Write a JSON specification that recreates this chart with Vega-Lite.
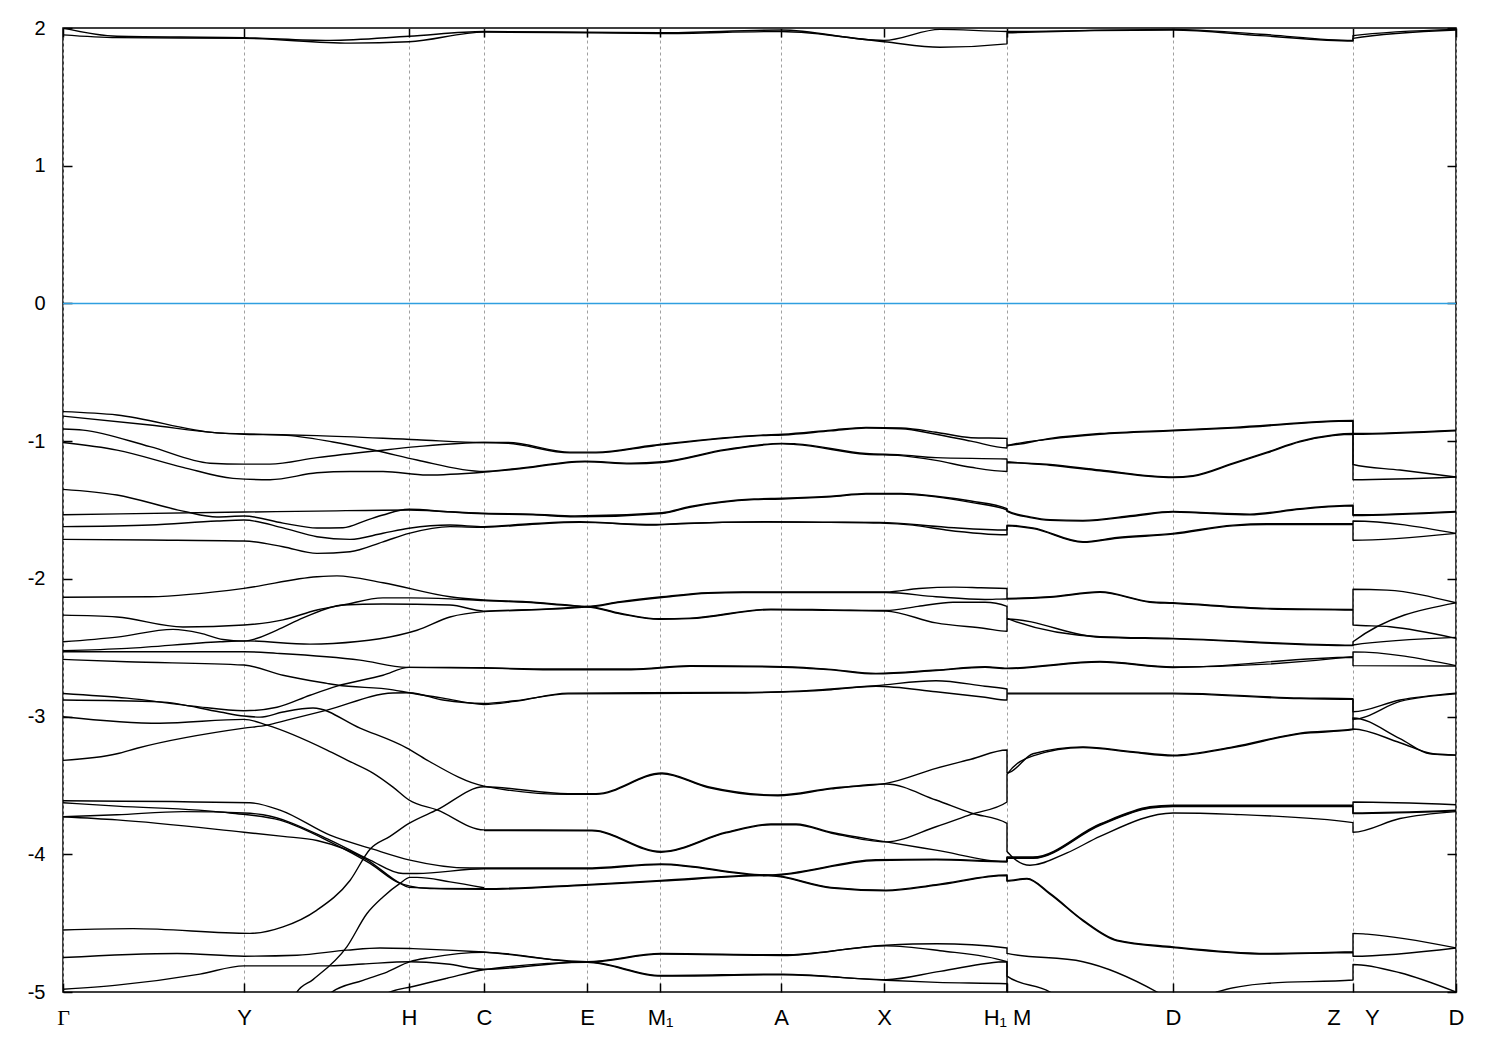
{
"$schema":"https://vega.github.io/schema/vega-lite/v6.json",
"width":1393,"height":964,
"autosize":{"type":"none"},
"padding":{"left":63,"top":28,"right":44,"bottom":58},
"background":"white",
"config":{"view":{"stroke":"black","strokeWidth":1.5},"font":"Liberation Sans"},
"resolve":{"scale":{"x":"independent","y":"independent"},"axis":{"x":"independent","y":"independent"}},
"layer":[
{"data":{"values":[
{"b":"TA","k":0,"e":2.0},{"b":"TA","k":54,"e":1.94},{"b":"TA","k":181,"e":1.93},{"b":"TA","k":267,"e":1.91},{"b":"TA","k":346,"e":1.94},{"b":"TA","k":421,"e":1.975},{"b":"TA","k":524,"e":1.97},{"b":"TA","k":597,"e":1.965},{"b":"TA","k":718,"e":1.985},{"b":"TA","k":821,"e":1.91},{"b":"TA","k":877,"e":1.99},{"b":"TA","k":944,"e":1.975},{"b":"TA","k":1110,"e":1.99},{"b":"TA","k":1197,"e":1.955},{"b":"TA","k":1290,"e":1.91},{"b":"TA","k":1290,"e":1.945},{"b":"TA","k":1393,"e":1.99},
{"b":"TB","k":0,"e":1.95},{"b":"TB","k":54,"e":1.93},{"b":"TB","k":181,"e":1.925},{"b":"TB","k":287,"e":1.89},{"b":"TB","k":346,"e":1.9},{"b":"TB","k":421,"e":1.97},{"b":"TB","k":524,"e":1.965},{"b":"TB","k":597,"e":1.96},{"b":"TB","k":718,"e":1.975},{"b":"TB","k":821,"e":1.9},{"b":"TB","k":877,"e":1.86},{"b":"TB","k":944,"e":1.885},{"b":"TB","k":944,"e":1.965},{"b":"TB","k":1110,"e":1.985},{"b":"TB","k":1197,"e":1.945},{"b":"TB","k":1290,"e":1.905},{"b":"TB","k":1290,"e":1.925},{"b":"TB","k":1393,"e":1.985},

{"b":"A1","k":0,"e":-0.786},{"b":"A1","k":54,"e":-0.81},{"b":"A1","k":154,"e":-0.94},{"b":"A1","k":181,"e":-0.947},{"b":"A1","k":254,"e":-0.96},{"b":"A1","k":354,"e":-0.99},{"b":"A1","k":421,"e":-1.01},{"b":"A1","k":445,"e":-1.01},{"b":"A1","k":507,"e":-1.08},{"b":"A1","k":533,"e":-1.08},{"b":"A1","k":590,"e":-1.03},{"b":"A1","k":698,"e":-0.956},{"b":"A1","k":720,"e":-0.95},{"b":"A1","k":768,"e":-0.92},{"b":"A1","k":803,"e":-0.9},{"b":"A1","k":838,"e":-0.905},{"b":"A1","k":873,"e":-0.935},{"b":"A1","k":908,"e":-0.975},{"b":"A1","k":944,"e":-0.98},{"b":"A1","k":944,"e":-1.03},{"b":"A1","k":987,"e":-0.98},{"b":"A1","k":1037,"e":-0.945},{"b":"A1","k":1110,"e":-0.92},{"b":"A1","k":1170,"e":-0.9},{"b":"A1","k":1290,"e":-0.85},{"b":"A1","k":1290,"e":-0.945},{"b":"A1","k":1393,"e":-0.92},
{"b":"A2","k":0,"e":-0.912},{"b":"A2","k":20,"e":-0.92},{"b":"A2","k":87,"e":-1.04},{"b":"A2","k":147,"e":-1.16},{"b":"A2","k":181,"e":-1.167},{"b":"A2","k":207,"e":-1.167},{"b":"A2","k":254,"e":-1.12},{"b":"A2","k":314,"e":-1.07},{"b":"A2","k":354,"e":-1.04},{"b":"A2","k":421,"e":-1.01},{"b":"A2","k":445,"e":-1.015},{"b":"A2","k":507,"e":-1.085},{"b":"A2","k":533,"e":-1.085},{"b":"A2","k":590,"e":-1.035},{"b":"A2","k":698,"e":-0.96},{"b":"A2","k":720,"e":-0.955},{"b":"A2","k":768,"e":-0.925},{"b":"A2","k":803,"e":-0.905},{"b":"A2","k":838,"e":-0.91},{"b":"A2","k":873,"e":-0.95},{"b":"A2","k":908,"e":-1.0},{"b":"A2","k":944,"e":-1.05},{"b":"A2","k":944,"e":-1.035},{"b":"A2","k":987,"e":-0.985},{"b":"A2","k":1037,"e":-0.95},{"b":"A2","k":1110,"e":-0.925},{"b":"A2","k":1170,"e":-0.905},{"b":"A2","k":1290,"e":-0.855},{"b":"A2","k":1290,"e":-0.95},{"b":"A2","k":1393,"e":-0.925},
{"b":"A3","k":0,"e":-0.818},{"b":"A3","k":87,"e":-0.883},{"b":"A3","k":154,"e":-0.94},{"b":"A3","k":181,"e":-0.95},{"b":"A3","k":220,"e":-0.956},{"b":"A3","k":270,"e":-1.006},{"b":"A3","k":314,"e":-1.07},{"b":"A3","k":354,"e":-1.137},{"b":"A3","k":421,"e":-1.22},{"b":"A3","k":452,"e":-1.2},{"b":"A3","k":522,"e":-1.145},{"b":"A3","k":568,"e":-1.16},{"b":"A3","k":599,"e":-1.15},{"b":"A3","k":663,"e":-1.06},{"b":"A3","k":719,"e":-1.016},{"b":"A3","k":733,"e":-1.02},{"b":"A3","k":803,"e":-1.09},{"b":"A3","k":838,"e":-1.1},{"b":"A3","k":873,"e":-1.12},{"b":"A3","k":944,"e":-1.13},{"b":"A3","k":944,"e":-1.15},{"b":"A3","k":987,"e":-1.17},{"b":"A3","k":1037,"e":-1.21},{"b":"A3","k":1110,"e":-1.26},{"b":"A3","k":1130,"e":-1.25},{"b":"A3","k":1170,"e":-1.16},{"b":"A3","k":1204,"e":-1.08},{"b":"A3","k":1237,"e":-1.0},{"b":"A3","k":1270,"e":-0.955},{"b":"A3","k":1290,"e":-0.945},{"b":"A3","k":1290,"e":-1.17},{"b":"A3","k":1337,"e":-1.21},{"b":"A3","k":1393,"e":-1.26},
{"b":"A4","k":0,"e":-1.01},{"b":"A4","k":54,"e":-1.065},{"b":"A4","k":120,"e":-1.19},{"b":"A4","k":170,"e":-1.27},{"b":"A4","k":207,"e":-1.28},{"b":"A4","k":254,"e":-1.23},{"b":"A4","k":287,"e":-1.22},{"b":"A4","k":320,"e":-1.22},{"b":"A4","k":364,"e":-1.246},{"b":"A4","k":421,"e":-1.225},{"b":"A4","k":452,"e":-1.205},{"b":"A4","k":522,"e":-1.15},{"b":"A4","k":568,"e":-1.165},{"b":"A4","k":599,"e":-1.155},{"b":"A4","k":663,"e":-1.065},{"b":"A4","k":719,"e":-1.02},{"b":"A4","k":733,"e":-1.025},{"b":"A4","k":803,"e":-1.095},{"b":"A4","k":838,"e":-1.105},{"b":"A4","k":873,"e":-1.14},{"b":"A4","k":908,"e":-1.19},{"b":"A4","k":944,"e":-1.22},{"b":"A4","k":944,"e":-1.155},{"b":"A4","k":987,"e":-1.175},{"b":"A4","k":1037,"e":-1.215},{"b":"A4","k":1110,"e":-1.265},{"b":"A4","k":1130,"e":-1.255},{"b":"A4","k":1170,"e":-1.165},{"b":"A4","k":1204,"e":-1.085},{"b":"A4","k":1237,"e":-1.005},{"b":"A4","k":1270,"e":-0.96},{"b":"A4","k":1290,"e":-0.95},{"b":"A4","k":1290,"e":-1.28},{"b":"A4","k":1393,"e":-1.26},

{"b":"B1","k":0,"e":-1.35},{"b":"B1","k":54,"e":-1.391},{"b":"B1","k":120,"e":-1.508},{"b":"B1","k":154,"e":-1.551},{"b":"B1","k":181,"e":-1.544},{"b":"B1","k":220,"e":-1.595},{"b":"B1","k":254,"e":-1.631},{"b":"B1","k":280,"e":-1.629},{"b":"B1","k":304,"e":-1.573},{"b":"B1","k":320,"e":-1.536},{"b":"B1","k":346,"e":-1.495},{"b":"B1","k":387,"e":-1.513},{"b":"B1","k":421,"e":-1.524},{"b":"B1","k":470,"e":-1.53},{"b":"B1","k":512,"e":-1.544},{"b":"B1","k":599,"e":-1.52},{"b":"B1","k":627,"e":-1.475},{"b":"B1","k":691,"e":-1.42},{"b":"B1","k":720,"e":-1.415},{"b":"B1","k":768,"e":-1.4},{"b":"B1","k":803,"e":-1.38},{"b":"B1","k":838,"e":-1.38},{"b":"B1","k":873,"e":-1.4},{"b":"B1","k":908,"e":-1.435},{"b":"B1","k":944,"e":-1.49},{"b":"B1","k":944,"e":-1.505},{"b":"B1","k":967,"e":-1.55},{"b":"B1","k":987,"e":-1.57},{"b":"B1","k":1020,"e":-1.575},{"b":"B1","k":1070,"e":-1.54},{"b":"B1","k":1110,"e":-1.51},{"b":"B1","k":1137,"e":-1.518},{"b":"B1","k":1187,"e":-1.53},{"b":"B1","k":1237,"e":-1.49},{"b":"B1","k":1290,"e":-1.465},{"b":"B1","k":1290,"e":-1.535},{"b":"B1","k":1393,"e":-1.51},
{"b":"B2","k":0,"e":-1.534},{"b":"B2","k":181,"e":-1.515},{"b":"B2","k":254,"e":-1.508},{"b":"B2","k":346,"e":-1.5},{"b":"B2","k":421,"e":-1.528},{"b":"B2","k":470,"e":-1.535},{"b":"B2","k":512,"e":-1.55},{"b":"B2","k":599,"e":-1.525},{"b":"B2","k":627,"e":-1.48},{"b":"B2","k":691,"e":-1.425},{"b":"B2","k":720,"e":-1.42},{"b":"B2","k":768,"e":-1.405},{"b":"B2","k":803,"e":-1.385},{"b":"B2","k":838,"e":-1.385},{"b":"B2","k":873,"e":-1.405},{"b":"B2","k":908,"e":-1.445},{"b":"B2","k":944,"e":-1.5},{"b":"B2","k":944,"e":-1.51},{"b":"B2","k":967,"e":-1.555},{"b":"B2","k":987,"e":-1.575},{"b":"B2","k":1020,"e":-1.58},{"b":"B2","k":1070,"e":-1.545},{"b":"B2","k":1110,"e":-1.515},{"b":"B2","k":1137,"e":-1.522},{"b":"B2","k":1187,"e":-1.535},{"b":"B2","k":1237,"e":-1.495},{"b":"B2","k":1290,"e":-1.47},{"b":"B2","k":1290,"e":-1.54},{"b":"B2","k":1393,"e":-1.515},
{"b":"B3","k":0,"e":-1.621},{"b":"B3","k":87,"e":-1.609},{"b":"B3","k":154,"e":-1.58},{"b":"B3","k":181,"e":-1.573},{"b":"B3","k":220,"e":-1.63},{"b":"B3","k":254,"e":-1.694},{"b":"B3","k":287,"e":-1.713},{"b":"B3","k":320,"e":-1.669},{"b":"B3","k":346,"e":-1.633},{"b":"B3","k":387,"e":-1.609},{"b":"B3","k":421,"e":-1.621},{"b":"B3","k":467,"e":-1.6},{"b":"B3","k":517,"e":-1.585},{"b":"B3","k":590,"e":-1.61},{"b":"B3","k":617,"e":-1.6},{"b":"B3","k":705,"e":-1.585},{"b":"B3","k":767,"e":-1.59},{"b":"B3","k":817,"e":-1.595},{"b":"B3","k":850,"e":-1.61},{"b":"B3","k":883,"e":-1.645},{"b":"B3","k":944,"e":-1.68},{"b":"B3","k":944,"e":-1.615},{"b":"B3","k":970,"e":-1.635},{"b":"B3","k":1020,"e":-1.735},{"b":"B3","k":1054,"e":-1.705},{"b":"B3","k":1110,"e":-1.675},{"b":"B3","k":1170,"e":-1.615},{"b":"B3","k":1204,"e":-1.605},{"b":"B3","k":1290,"e":-1.605},{"b":"B3","k":1290,"e":-1.72},{"b":"B3","k":1393,"e":-1.67},
{"b":"B4","k":0,"e":-1.713},{"b":"B4","k":87,"e":-1.718},{"b":"B4","k":181,"e":-1.725},{"b":"B4","k":220,"e":-1.767},{"b":"B4","k":254,"e":-1.815},{"b":"B4","k":287,"e":-1.803},{"b":"B4","k":320,"e":-1.731},{"b":"B4","k":346,"e":-1.67},{"b":"B4","k":387,"e":-1.621},{"b":"B4","k":421,"e":-1.625},{"b":"B4","k":467,"e":-1.605},{"b":"B4","k":517,"e":-1.59},{"b":"B4","k":590,"e":-1.605},{"b":"B4","k":617,"e":-1.598},{"b":"B4","k":705,"e":-1.588},{"b":"B4","k":817,"e":-1.59},{"b":"B4","k":883,"e":-1.625},{"b":"B4","k":944,"e":-1.645},{"b":"B4","k":944,"e":-1.61},{"b":"B4","k":970,"e":-1.63},{"b":"B4","k":1020,"e":-1.73},{"b":"B4","k":1054,"e":-1.7},{"b":"B4","k":1110,"e":-1.67},{"b":"B4","k":1170,"e":-1.61},{"b":"B4","k":1204,"e":-1.6},{"b":"B4","k":1290,"e":-1.6},{"b":"B4","k":1290,"e":-1.58},{"b":"B4","k":1393,"e":-1.67},

{"b":"C1","k":0,"e":-2.134},{"b":"C1","k":87,"e":-2.13},{"b":"C1","k":181,"e":-2.069},{"b":"C1","k":254,"e":-1.985},{"b":"C1","k":274,"e":-1.978},{"b":"C1","k":320,"e":-2.028},{"b":"C1","k":387,"e":-2.13},{"b":"C1","k":421,"e":-2.154},{"b":"C1","k":463,"e":-2.166},{"b":"C1","k":505,"e":-2.19},{"b":"C1","k":524,"e":-2.2},{"b":"C1","k":557,"e":-2.165},{"b":"C1","k":599,"e":-2.13},{"b":"C1","k":645,"e":-2.1},{"b":"C1","k":680,"e":-2.095},{"b":"C1","k":823,"e":-2.095},{"b":"C1","k":856,"e":-2.07},{"b":"C1","k":891,"e":-2.06},{"b":"C1","k":918,"e":-2.065},{"b":"C1","k":944,"e":-2.07},{"b":"C1","k":944,"e":-2.142},{"b":"C1","k":987,"e":-2.13},{"b":"C1","k":1037,"e":-2.094},{"b":"C1","k":1087,"e":-2.166},{"b":"C1","k":1110,"e":-2.174},{"b":"C1","k":1204,"e":-2.214},{"b":"C1","k":1290,"e":-2.222},{"b":"C1","k":1290,"e":-2.075},{"b":"C1","k":1324,"e":-2.082},{"b":"C1","k":1393,"e":-2.174},
{"b":"C2","k":0,"e":-2.263},{"b":"C2","k":54,"e":-2.277},{"b":"C2","k":120,"e":-2.35},{"b":"C2","k":181,"e":-2.335},{"b":"C2","k":220,"e":-2.298},{"b":"C2","k":254,"e":-2.226},{"b":"C2","k":280,"e":-2.19},{"b":"C2","k":320,"e":-2.138},{"b":"C2","k":346,"e":-2.138},{"b":"C2","k":387,"e":-2.145},{"b":"C2","k":421,"e":-2.158},{"b":"C2","k":463,"e":-2.17},{"b":"C2","k":505,"e":-2.194},{"b":"C2","k":524,"e":-2.204},{"b":"C2","k":557,"e":-2.17},{"b":"C2","k":599,"e":-2.135},{"b":"C2","k":645,"e":-2.104},{"b":"C2","k":680,"e":-2.099},{"b":"C2","k":823,"e":-2.099},{"b":"C2","k":873,"e":-2.13},{"b":"C2","k":922,"e":-2.15},{"b":"C2","k":944,"e":-2.145},{"b":"C2","k":944,"e":-2.146},{"b":"C2","k":987,"e":-2.134},{"b":"C2","k":1037,"e":-2.098},{"b":"C2","k":1087,"e":-2.17},{"b":"C2","k":1110,"e":-2.178},{"b":"C2","k":1204,"e":-2.218},{"b":"C2","k":1290,"e":-2.226},{"b":"C2","k":1290,"e":-2.335},{"b":"C2","k":1327,"e":-2.348},{"b":"C2","k":1393,"e":-2.432},
{"b":"C3","k":0,"e":-2.457},{"b":"C3","k":54,"e":-2.423},{"b":"C3","k":110,"e":-2.367},{"b":"C3","k":137,"e":-2.394},{"b":"C3","k":160,"e":-2.44},{"b":"C3","k":181,"e":-2.452},{"b":"C3","k":214,"e":-2.372},{"b":"C3","k":240,"e":-2.284},{"b":"C3","k":280,"e":-2.19},{"b":"C3","k":320,"e":-2.183},{"b":"C3","k":387,"e":-2.19},{"b":"C3","k":421,"e":-2.234},{"b":"C3","k":505,"e":-2.21},{"b":"C3","k":524,"e":-2.2},{"b":"C3","k":557,"e":-2.25},{"b":"C3","k":596,"e":-2.29},{"b":"C3","k":627,"e":-2.285},{"b":"C3","k":708,"e":-2.22},{"b":"C3","k":768,"e":-2.225},{"b":"C3","k":823,"e":-2.23},{"b":"C3","k":855,"e":-2.2},{"b":"C3","k":890,"e":-2.17},{"b":"C3","k":922,"e":-2.17},{"b":"C3","k":944,"e":-2.2},{"b":"C3","k":944,"e":-2.287},{"b":"C3","k":1037,"e":-2.42},{"b":"C3","k":1110,"e":-2.432},{"b":"C3","k":1290,"e":-2.481},{"b":"C3","k":1290,"e":-2.457},{"b":"C3","k":1393,"e":-2.174},
{"b":"C4","k":0,"e":-2.522},{"b":"C4","k":64,"e":-2.505},{"b":"C4","k":157,"e":-2.457},{"b":"C4","k":181,"e":-2.45},{"b":"C4","k":247,"e":-2.474},{"b":"C4","k":270,"e":-2.469},{"b":"C4","k":354,"e":-2.373},{"b":"C4","k":387,"e":-2.277},{"b":"C4","k":421,"e":-2.238},{"b":"C4","k":505,"e":-2.214},{"b":"C4","k":524,"e":-2.204},{"b":"C4","k":557,"e":-2.254},{"b":"C4","k":596,"e":-2.294},{"b":"C4","k":627,"e":-2.289},{"b":"C4","k":708,"e":-2.224},{"b":"C4","k":768,"e":-2.229},{"b":"C4","k":823,"e":-2.234},{"b":"C4","k":873,"e":-2.32},{"b":"C4","k":922,"e":-2.36},{"b":"C4","k":944,"e":-2.38},{"b":"C4","k":944,"e":-2.292},{"b":"C4","k":1037,"e":-2.424},{"b":"C4","k":1110,"e":-2.436},{"b":"C4","k":1290,"e":-2.485},{"b":"C4","k":1290,"e":-2.48},{"b":"C4","k":1393,"e":-2.425},

{"b":"D1","k":0,"e":-2.529},{"b":"D1","k":181,"e":-2.529},{"b":"D1","k":214,"e":-2.541},{"b":"D1","k":297,"e":-2.59},{"b":"D1","k":344,"e":-2.643},{"b":"D1","k":421,"e":-2.648},{"b":"D1","k":487,"e":-2.655},{"b":"D1","k":568,"e":-2.655},{"b":"D1","k":627,"e":-2.63},{"b":"D1","k":720,"e":-2.638},{"b":"D1","k":768,"e":-2.657},{"b":"D1","k":813,"e":-2.686},{"b":"D1","k":873,"e":-2.662},{"b":"D1","k":922,"e":-2.638},{"b":"D1","k":944,"e":-2.648},{"b":"D1","k":1037,"e":-2.6},{"b":"D1","k":1110,"e":-2.64},{"b":"D1","k":1290,"e":-2.565},{"b":"D1","k":1290,"e":-2.53},{"b":"D1","k":1393,"e":-2.63},
{"b":"D2","k":0,"e":-2.832},{"b":"D2","k":64,"e":-2.866},{"b":"D2","k":130,"e":-2.924},{"b":"D2","k":181,"e":-2.958},{"b":"D2","k":214,"e":-2.932},{"b":"D2","k":247,"e":-2.845},{"b":"D2","k":274,"e":-2.779},{"b":"D2","k":320,"e":-2.7},{"b":"D2","k":346,"e":-2.643},{"b":"D2","k":387,"e":-2.643},{"b":"D2","k":421,"e":-2.646},{"b":"D2","k":487,"e":-2.66},{"b":"D2","k":568,"e":-2.66},{"b":"D2","k":627,"e":-2.635},{"b":"D2","k":720,"e":-2.642},{"b":"D2","k":768,"e":-2.661},{"b":"D2","k":813,"e":-2.69},{"b":"D2","k":873,"e":-2.666},{"b":"D2","k":922,"e":-2.642},{"b":"D2","k":944,"e":-2.652},{"b":"D2","k":1037,"e":-2.604},{"b":"D2","k":1110,"e":-2.644},{"b":"D2","k":1290,"e":-2.569},{"b":"D2","k":1290,"e":-2.63},{"b":"D2","k":1393,"e":-2.633},

{"b":"E1","k":0,"e":-2.585},{"b":"E1","k":64,"e":-2.602},{"b":"E1","k":181,"e":-2.626},{"b":"E1","k":220,"e":-2.7},{"b":"E1","k":264,"e":-2.759},{"b":"E1","k":274,"e":-2.771},{"b":"E1","k":330,"e":-2.806},{"b":"E1","k":346,"e":-2.827},{"b":"E1","k":380,"e":-2.866},{"b":"E1","k":421,"e":-2.912},{"b":"E1","k":452,"e":-2.89},{"b":"E1","k":505,"e":-2.83},{"b":"E1","k":663,"e":-2.825},{"b":"E1","k":720,"e":-2.82},{"b":"E1","k":768,"e":-2.8},{"b":"E1","k":813,"e":-2.775},{"b":"E1","k":873,"e":-2.74},{"b":"E1","k":922,"e":-2.78},{"b":"E1","k":944,"e":-2.8},{"b":"E1","k":944,"e":-2.83},{"b":"E1","k":1110,"e":-2.83},{"b":"E1","k":1237,"e":-2.865},{"b":"E1","k":1290,"e":-2.87},{"b":"E1","k":1290,"e":-2.965},{"b":"E1","k":1337,"e":-2.88},{"b":"E1","k":1393,"e":-2.83},
{"b":"E2","k":0,"e":-3.318},{"b":"E2","k":54,"e":-3.27},{"b":"E2","k":74,"e":-3.23},{"b":"E2","k":181,"e":-3.084},{"b":"E2","k":204,"e":-3.062},{"b":"E2","k":224,"e":-3.026},{"b":"E2","k":264,"e":-2.953},{"b":"E2","k":330,"e":-2.829},{"b":"E2","k":346,"e":-2.827},{"b":"E2","k":380,"e":-2.88},{"b":"E2","k":421,"e":-2.905},{"b":"E2","k":452,"e":-2.885},{"b":"E2","k":505,"e":-2.835},{"b":"E2","k":663,"e":-2.83},{"b":"E2","k":768,"e":-2.805},{"b":"E2","k":813,"e":-2.78},{"b":"E2","k":873,"e":-2.82},{"b":"E2","k":922,"e":-2.86},{"b":"E2","k":944,"e":-2.88},{"b":"E2","k":944,"e":-2.835},{"b":"E2","k":1110,"e":-2.835},{"b":"E2","k":1237,"e":-2.87},{"b":"E2","k":1290,"e":-2.875},{"b":"E2","k":1290,"e":-3.02},{"b":"E2","k":1337,"e":-2.89},{"b":"E2","k":1393,"e":-2.835},

{"b":"F1","k":0,"e":-4.55},{"b":"F1","k":70,"e":-4.54},{"b":"F1","k":187,"e":-4.574},{"b":"F1","k":220,"e":-4.527},{"b":"F1","k":254,"e":-4.405},{"b":"F1","k":287,"e":-4.19},{"b":"F1","k":307,"e":-3.963},{"b":"F1","k":327,"e":-3.87},{"b":"F1","k":346,"e":-3.776},{"b":"F1","k":374,"e":-3.678},{"b":"F1","k":421,"e":-3.51},{"b":"F1","k":505,"e":-3.56},{"b":"F1","k":533,"e":-3.56},{"b":"F1","k":599,"e":-3.41},{"b":"F1","k":645,"e":-3.51},{"b":"F1","k":715,"e":-3.57},{"b":"F1","k":768,"e":-3.52},{"b":"F1","k":823,"e":-3.485},{"b":"F1","k":873,"e":-3.376},{"b":"F1","k":908,"e":-3.31},{"b":"F1","k":944,"e":-3.243},{"b":"F1","k":944,"e":-3.41},{"b":"F1","k":970,"e":-3.27},{"b":"F1","k":1020,"e":-3.22},{"b":"F1","k":1070,"e":-3.255},{"b":"F1","k":1110,"e":-3.28},{"b":"F1","k":1170,"e":-3.22},{"b":"F1","k":1237,"e":-3.12},{"b":"F1","k":1290,"e":-3.09},{"b":"F1","k":1290,"e":-3.01},{"b":"F1","k":1337,"e":-3.16},{"b":"F1","k":1367,"e":-3.27},{"b":"F1","k":1393,"e":-3.28},
{"b":"F2","k":0,"e":-2.88},{"b":"F2","k":97,"e":-2.893},{"b":"F2","k":157,"e":-2.967},{"b":"F2","k":181,"e":-2.996},{"b":"F2","k":197,"e":-3.004},{"b":"F2","k":220,"e":-2.967},{"b":"F2","k":250,"e":-2.938},{"b":"F2","k":297,"e":-3.084},{"b":"F2","k":344,"e":-3.229},{"b":"F2","k":364,"e":-3.316},{"b":"F2","k":421,"e":-3.505},{"b":"F2","k":505,"e":-3.565},{"b":"F2","k":533,"e":-3.565},{"b":"F2","k":599,"e":-3.415},{"b":"F2","k":645,"e":-3.515},{"b":"F2","k":715,"e":-3.575},{"b":"F2","k":768,"e":-3.525},{"b":"F2","k":823,"e":-3.49},{"b":"F2","k":873,"e":-3.606},{"b":"F2","k":908,"e":-3.7},{"b":"F2","k":944,"e":-3.776},{"b":"F2","k":944,"e":-3.98},{"b":"F2","k":967,"e":-4.08},{"b":"F2","k":1004,"e":-3.99},{"b":"F2","k":1037,"e":-3.87},{"b":"F2","k":1110,"e":-3.7},{"b":"F2","k":1170,"e":-3.71},{"b":"F2","k":1290,"e":-3.77},{"b":"F2","k":1290,"e":-3.84},{"b":"F2","k":1337,"e":-3.74},{"b":"F2","k":1393,"e":-3.69},
{"b":"F3","k":0,"e":-3.001},{"b":"F3","k":97,"e":-3.049},{"b":"F3","k":181,"e":-3.02},{"b":"F3","k":204,"e":-3.062},{"b":"F3","k":264,"e":-3.243},{"b":"F3","k":284,"e":-3.316},{"b":"F3","k":310,"e":-3.41},{"b":"F3","k":330,"e":-3.512},{"b":"F3","k":346,"e":-3.606},{"b":"F3","k":374,"e":-3.678},{"b":"F3","k":421,"e":-3.823},{"b":"F3","k":529,"e":-3.825},{"b":"F3","k":598,"e":-3.98},{"b":"F3","k":663,"e":-3.84},{"b":"F3","k":708,"e":-3.78},{"b":"F3","k":733,"e":-3.78},{"b":"F3","k":768,"e":-3.84},{"b":"F3","k":823,"e":-3.91},{"b":"F3","k":873,"e":-3.97},{"b":"F3","k":944,"e":-4.054},{"b":"F3","k":944,"e":-4.02},{"b":"F3","k":970,"e":-4.02},{"b":"F3","k":1037,"e":-3.78},{"b":"F3","k":1087,"e":-3.655},{"b":"F3","k":1110,"e":-3.643},{"b":"F3","k":1290,"e":-3.643},{"b":"F3","k":1290,"e":-3.62},{"b":"F3","k":1393,"e":-3.64},
{"b":"F4","k":421,"e":-3.828},{"b":"F4","k":529,"e":-3.83},{"b":"F4","k":598,"e":-3.985},{"b":"F4","k":663,"e":-3.845},{"b":"F4","k":708,"e":-3.785},{"b":"F4","k":733,"e":-3.785},{"b":"F4","k":768,"e":-3.845},{"b":"F4","k":823,"e":-3.91},{"b":"F4","k":873,"e":-3.8},{"b":"F4","k":908,"e":-3.71},{"b":"F4","k":944,"e":-3.62},{"b":"F4","k":944,"e":-3.42},{"b":"F4","k":970,"e":-3.285},{"b":"F4","k":1020,"e":-3.225},{"b":"F4","k":1070,"e":-3.26},{"b":"F4","k":1110,"e":-3.285},{"b":"F4","k":1170,"e":-3.225},{"b":"F4","k":1237,"e":-3.125},{"b":"F4","k":1290,"e":-3.095},{"b":"F4","k":1290,"e":-3.09},{"b":"F4","k":1337,"e":-3.19},{"b":"F4","k":1370,"e":-3.27},{"b":"F4","k":1393,"e":-3.28},
{"b":"F5","k":0,"e":-3.611},{"b":"F5","k":187,"e":-3.626},{"b":"F5","k":217,"e":-3.679},{"b":"F5","k":267,"e":-3.861},{"b":"F5","k":310,"e":-3.963},{"b":"F5","k":347,"e":-4.042},{"b":"F5","k":407,"e":-4.1},{"b":"F5","k":421,"e":-4.1},{"b":"F5","k":522,"e":-4.1},{"b":"F5","k":598,"e":-4.07},{"b":"F5","k":705,"e":-4.15},{"b":"F5","k":813,"e":-4.04},{"b":"F5","k":873,"e":-4.035},{"b":"F5","k":944,"e":-4.05},{"b":"F5","k":944,"e":-4.025},{"b":"F5","k":970,"e":-4.025},{"b":"F5","k":1037,"e":-3.785},{"b":"F5","k":1087,"e":-3.66},{"b":"F5","k":1110,"e":-3.648},{"b":"F5","k":1290,"e":-3.648},{"b":"F5","k":1290,"e":-3.7},{"b":"F5","k":1393,"e":-3.68},
{"b":"F6","k":0,"e":-3.727},{"b":"F6","k":54,"e":-3.713},{"b":"F6","k":120,"e":-3.69},{"b":"F6","k":181,"e":-3.7},{"b":"F6","k":200,"e":-3.713},{"b":"F6","k":267,"e":-3.897},{"b":"F6","k":307,"e":-4.042},{"b":"F6","k":340,"e":-4.14},{"b":"F6","k":354,"e":-4.14},{"b":"F6","k":421,"e":-4.105},{"b":"F6","k":522,"e":-4.105},{"b":"F6","k":598,"e":-4.075},{"b":"F6","k":705,"e":-4.155},{"b":"F6","k":813,"e":-4.045},{"b":"F6","k":873,"e":-4.04},{"b":"F6","k":944,"e":-4.055},{"b":"F6","k":944,"e":-4.03},{"b":"F6","k":970,"e":-4.03},{"b":"F6","k":1037,"e":-3.79},{"b":"F6","k":1087,"e":-3.665},{"b":"F6","k":1110,"e":-3.653},{"b":"F6","k":1290,"e":-3.653},{"b":"F6","k":1290,"e":-3.705},{"b":"F6","k":1393,"e":-3.685},
{"b":"F7","k":0,"e":-3.626},{"b":"F7","k":54,"e":-3.65},{"b":"F7","k":167,"e":-3.7},{"b":"F7","k":217,"e":-3.752},{"b":"F7","k":267,"e":-3.909},{"b":"F7","k":307,"e":-4.066},{"b":"F7","k":337,"e":-4.211},{"b":"F7","k":347,"e":-4.231},{"b":"F7","k":367,"e":-4.248},{"b":"F7","k":421,"e":-4.25},{"b":"F7","k":522,"e":-4.22},{"b":"F7","k":598,"e":-4.19},{"b":"F7","k":705,"e":-4.15},{"b":"F7","k":768,"e":-4.24},{"b":"F7","k":823,"e":-4.26},{"b":"F7","k":873,"e":-4.22},{"b":"F7","k":944,"e":-4.15},{"b":"F7","k":944,"e":-4.19},{"b":"F7","k":964,"e":-4.175},{"b":"F7","k":987,"e":-4.284},{"b":"F7","k":1020,"e":-4.478},{"b":"F7","k":1054,"e":-4.623},{"b":"F7","k":1110,"e":-4.672},{"b":"F7","k":1204,"e":-4.72},{"b":"F7","k":1290,"e":-4.708},{"b":"F7","k":1290,"e":-4.574},{"b":"F7","k":1304,"e":-4.58},{"b":"F7","k":1393,"e":-4.68},
{"b":"F8","k":0,"e":-3.727},{"b":"F8","k":54,"e":-3.75},{"b":"F8","k":181,"e":-3.84},{"b":"F8","k":220,"e":-3.87},{"b":"F8","k":254,"e":-3.9},{"b":"F8","k":304,"e":-4.04},{"b":"F8","k":337,"e":-4.21},{"b":"F8","k":346,"e":-4.24},{"b":"F8","k":421,"e":-4.255},{"b":"F8","k":522,"e":-4.225},{"b":"F8","k":598,"e":-4.195},{"b":"F8","k":705,"e":-4.155},{"b":"F8","k":768,"e":-4.245},{"b":"F8","k":823,"e":-4.265},{"b":"F8","k":873,"e":-4.225},{"b":"F8","k":944,"e":-4.155},{"b":"F8","k":944,"e":-4.195},{"b":"F8","k":964,"e":-4.18},{"b":"F8","k":987,"e":-4.29},{"b":"F8","k":1020,"e":-4.483},{"b":"F8","k":1054,"e":-4.628},{"b":"F8","k":1110,"e":-4.677},{"b":"F8","k":1204,"e":-4.725},{"b":"F8","k":1290,"e":-4.713},{"b":"F8","k":1290,"e":-4.74},{"b":"F8","k":1393,"e":-4.68},
{"b":"F9","k":230,"e":-5.05},{"b":"F9","k":234,"e":-5.0},{"b":"F9","k":250,"e":-4.91},{"b":"F9","k":284,"e":-4.67},{"b":"F9","k":304,"e":-4.43},{"b":"F9","k":320,"e":-4.31},{"b":"F9","k":337,"e":-4.211},{"b":"F9","k":347,"e":-4.168},{"b":"F9","k":354,"e":-4.168},{"b":"F9","k":387,"e":-4.2},{"b":"F9","k":421,"e":-4.243},

{"b":"G1","k":0,"e":-4.75},{"b":"G1","k":114,"e":-4.72},{"b":"G1","k":181,"e":-4.74},{"b":"G1","k":234,"e":-4.733},{"b":"G1","k":284,"e":-4.696},{"b":"G1","k":317,"e":-4.68},{"b":"G1","k":350,"e":-4.685},{"b":"G1","k":421,"e":-4.71},{"b":"G1","k":524,"e":-4.78},{"b":"G1","k":598,"e":-4.72},{"b":"G1","k":720,"e":-4.73},{"b":"G1","k":823,"e":-4.66},{"b":"G1","k":874,"e":-4.65},{"b":"G1","k":944,"e":-4.68},{"b":"G1","k":944,"e":-4.72},{"b":"G1","k":1020,"e":-4.78},{"b":"G1","k":1094,"e":-5.0},{"b":"G1","k":1117,"e":-5.1},
{"b":"G2","k":264,"e":-5.05},{"b":"G2","k":267,"e":-5.01},{"b":"G2","k":300,"e":-4.915},{"b":"G2","k":324,"e":-4.855},{"b":"G2","k":347,"e":-4.78},{"b":"G2","k":367,"e":-4.75},{"b":"G2","k":421,"e":-4.712},{"b":"G2","k":524,"e":-4.785},{"b":"G2","k":598,"e":-4.725},{"b":"G2","k":720,"e":-4.735},{"b":"G2","k":823,"e":-4.665},{"b":"G2","k":877,"e":-4.7},{"b":"G2","k":944,"e":-4.78},{"b":"G2","k":944,"e":-4.885},{"b":"G2","k":987,"e":-5.0},{"b":"G2","k":1007,"e":-5.1},
{"b":"G3","k":0,"e":-4.98},{"b":"G3","k":54,"e":-4.95},{"b":"G3","k":137,"e":-4.87},{"b":"G3","k":181,"e":-4.81},{"b":"G3","k":267,"e":-4.81},{"b":"G3","k":300,"e":-4.797},{"b":"G3","k":347,"e":-4.78},{"b":"G3","k":384,"e":-4.797},{"b":"G3","k":421,"e":-4.835},{"b":"G3","k":524,"e":-4.78},{"b":"G3","k":598,"e":-4.88},{"b":"G3","k":720,"e":-4.87},{"b":"G3","k":823,"e":-4.91},{"b":"G3","k":877,"e":-4.85},{"b":"G3","k":944,"e":-4.78},{"b":"G3","k":944,"e":-5.1},
{"b":"G4","k":320,"e":-5.05},{"b":"G4","k":324,"e":-5.01},{"b":"G4","k":350,"e":-4.96},{"b":"G4","k":384,"e":-4.9},{"b":"G4","k":421,"e":-4.838},{"b":"G4","k":524,"e":-4.785},{"b":"G4","k":598,"e":-4.885},{"b":"G4","k":720,"e":-4.875},{"b":"G4","k":823,"e":-4.915},{"b":"G4","k":874,"e":-4.93},{"b":"G4","k":944,"e":-4.94},{"b":"G4","k":944,"e":-5.1},
{"b":"G5","k":1137,"e":-5.1},{"b":"G5","k":1154,"e":-5.0},{"b":"G5","k":1204,"e":-4.937},{"b":"G5","k":1290,"e":-4.913},{"b":"G5","k":1290,"e":-4.8},{"b":"G5","k":1337,"e":-4.86},{"b":"G5","k":1393,"e":-5.0}
]},
"mark":{"type":"line","color":"black","strokeWidth":1.4,"clip":true,"strokeJoin":"round","interpolate":"monotone"},
"encoding":{
"x":{"field":"k","type":"quantitative","scale":{"domain":[0,1393],"nice":false,"zero":false},
"axis":{"orient":"bottom","values":[0,181,346,421,524,597,718,821,944,1110,1290,1393],
"labelExpr":"datum.value==0?'Γ':datum.value==181?'Y':datum.value==346?'H':datum.value==421?'C':datum.value==524?'E':datum.value==597?'M₁':datum.value==718?'A':datum.value==821?'X':datum.value==944?'H₁\u00a0M':datum.value==1110?'D':datum.value==1290?'Z\u00a0\u00a0\u00a0\u00a0Y':'D'",
"labelFont":{"condition":{"test":"datum.value==0","value":"Liberation Serif"},"value":"Liberation Sans"},
"labelFontSize":22,"labelColor":"black","labelPadding":24,"labelFlush":false,
"grid":true,"gridDash":[3,3],"gridColor":"#a0a0a0","gridWidth":1,
"domain":false,"ticks":true,"tickSize":-9,"tickColor":"black","tickWidth":1.5,"title":null}},
"y":{"field":"e","type":"quantitative","scale":{"domain":[-5,2],"nice":false,"zero":false},
"axis":{"orient":"left","values":[-5,-4,-3,-2,-1,0,1,2],"labelExpr":"''+datum.value","labelFontSize":20,"labelColor":"black","labelPadding":27,"labelFlush":false,
"grid":false,"domain":false,"ticks":true,"tickSize":-9,"tickColor":"black","tickWidth":1.5,"title":null}},
"detail":{"field":"b","type":"nominal"},
"order":{"value":null}
}},
{"data":{"values":[{"k":0,"e":0},{"k":1393,"e":0}]},
"mark":{"type":"line","color":"#2f9fe0","strokeWidth":1.6},
"encoding":{
"x":{"field":"k","type":"quantitative","scale":{"domain":[0,1393],"nice":false,"zero":false},
"axis":{"orient":"top","values":[0,181,346,421,524,597,718,821,944,1110,1290,1393],"labels":false,"grid":false,"domain":false,"ticks":true,"tickSize":-9,"tickColor":"black","tickWidth":1.5,"title":null}},
"y":{"field":"e","type":"quantitative","scale":{"domain":[-5,2],"nice":false,"zero":false},
"axis":{"orient":"right","values":[-5,-4,-3,-2,-1,0,1,2],"labels":false,"grid":false,"domain":false,"ticks":true,"tickSize":-9,"tickColor":"black","tickWidth":1.5,"title":null}}
}}
]
}
